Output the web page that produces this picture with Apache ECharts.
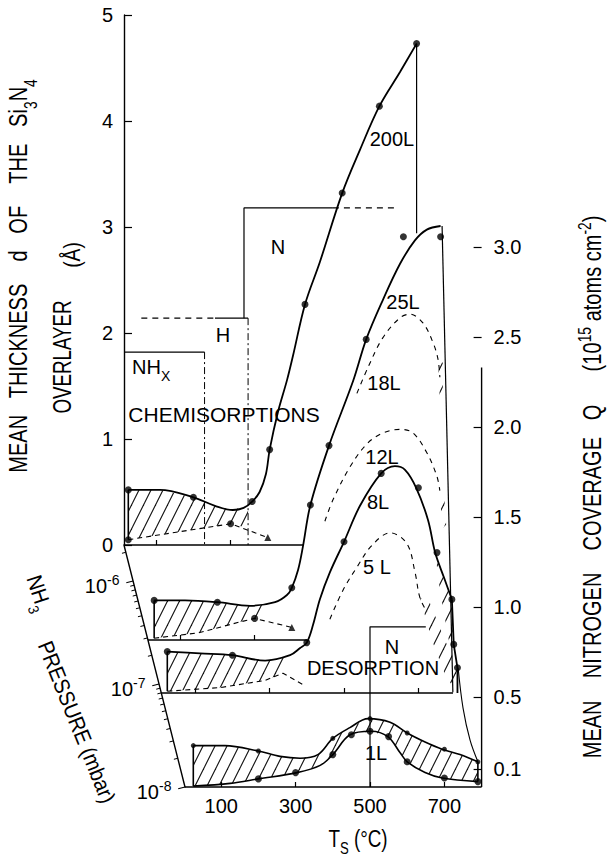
<!DOCTYPE html>
<html><head><meta charset="utf-8">
<script src="https://cdn.jsdelivr.net/npm/echarts@6/dist/echarts.min.js"></script>
<style>html,body{margin:0;padding:0;background:#fff}#c{width:607px;height:861px}</style>
</head><body><div id="c"></div>
<script>
// ================= DATA =================
// Layer A : 200 L exposure, mean thickness d (Å) vs substrate temperature T (°C)
const t200    = [25,110,200,258,306,335,358,378,395,405,427,452,468,500,540,600,648,700,755,800];
const d200    = [0.52,0.52,0.45,0.37,0.33,0.35,0.41,0.50,0.67,0.90,1.25,1.56,1.79,2.27,2.67,3.32,3.73,4.14,4.46,4.73];
const t200Pts = [25,200,358,405,500,600,700,800];
const d200Pts = [0.52,0.45,0.41,0.90,2.27,3.32,4.14,4.73];
const t200Low = [25,300,400];
const d200Low = [0.05,0.20,0.07];
const t200HatchTop = [25,110,200,258,306,347];
const d200HatchTop = [0.52,0.52,0.45,0.37,0.33,0.38];
const t200HatchBot = [25,300,347];
const d200HatchBot = [0.05,0.20,0.16];
const t200Wall = [800,800];
const d200Wall = [4.73,2.94];

// Layer B : 25 L (solid, measured), 18 L and 12 L (dashed) – coverage Q (1e15 atoms/cm2)
const t25    = [30,113,200,288,355,387,400,417,430,450,500,565,600,645,691,731,763,800];
const q25    = [0.22,0.22,0.21,0.19,0.21,0.25,0.29,0.39,0.52,0.75,1.08,1.44,1.67,1.89,2.09,2.22,2.28,2.30];
const t25Pts = [30,200,400,450,500,600,700,800];
const q25Pts = [0.22,0.21,0.29,0.75,1.08,1.67,2.24,2.24];
const t25Low = [30,150,260,300,400];
const q25Low = [0.01,0.04,0.10,0.12,0.07];
const t25HatchTop = [30,113,200,288,340];
const q25HatchTop = [0.22,0.22,0.21,0.19,0.20];
const t25HatchBot = [30,150,260,300,340];
const q25HatchBot = [0.01,0.04,0.10,0.12,0.17];
const t25Wall = [804,833];
const q25Wall = [2.30,-0.29];
const t18 = [575,606,645,691,718,753,780,793,798];
const q18 = [1.37,1.52,1.68,1.79,1.81,1.76,1.65,1.56,1.46];
const t18Strip = [793,806,806,798];
const q18Strip = [1.56,1.54,1.31,1.33];
const t12 = [489,511,556,602,645,691,726,763,790,798];
const q12 = [0.66,0.78,0.96,1.09,1.15,1.17,1.15,1.04,0.91,0.83];
const t12Strip = [798,809,815,804];
const q12Strip = [0.83,0.82,0.64,0.62];

// Layer C : 8 L (solid, measured) and 5 L (dashed)
const t8     = [25,113,200,288,355,382,400,417,435,462,500,543,600,637,664,694,726,745,769,790];
const q8     = [0.23,0.22,0.21,0.18,0.21,0.25,0.28,0.38,0.52,0.67,0.84,1.04,1.22,1.26,1.24,1.14,0.96,0.78,0.64,0.52];
const t8Tail = [790,795,805,805];
const q8Tail = [0.52,0.27,0.14,0];
const t8Pts  = [25,200,400,500,600,700,750,790,795,805];
const q8Pts  = [0.23,0.21,0.28,0.84,1.22,1.14,0.78,0.52,0.27,0.14];
const t8Low  = [25,167,288,336,395];
const q8Low  = [0.01,0.03,0.07,0.11,0.04];
const t8HatchTop = [25,113,200,288,340];
const q8HatchTop = [0.23,0.22,0.21,0.18,0.20];
const t8HatchBot = [25,167,288,336];
const q8HatchBot = [0.01,0.03,0.07,0.11];
const t8Strip = [745,790,793,782,758];
const q8Strip = [0.78,0.52,0.27,0.29,0.57];
const t5 = [462,497,535,575,624,669,691,704,723];
const q5 = [0.41,0.57,0.70,0.82,0.89,0.83,0.67,0.53,0.45];
const tDesStrip = [704,731,772,806,798,772,737];
const qDesStrip = [0.53,0.50,0.29,0.14,0.02,0.10,0.29];

// Layer D : 1 L, upper and lower curves
const t1Up    = [25,110,200,258,312,360,400,446,495,554,600,648,694,742,790];
const q1Up    = [0.23,0.23,0.20,0.17,0.16,0.18,0.27,0.33,0.38,0.36,0.30,0.25,0.21,0.18,0.14];
const t1UpPts = [25,200,400,500,600,700,790];
const q1UpPts = [0.23,0.20,0.27,0.38,0.30,0.21,0.14];
const t1Lo    = [25,124,200,304,366,400,446,503,548,581,600,648,694,790];
const q1Lo    = [0.005,0.02,0.045,0.08,0.12,0.18,0.29,0.31,0.28,0.19,0.14,0.08,0.05,0.03];
const t1LoPts = [200,300,400,450,500,550,600,700,790];
const q1LoPts = [0.045,0.08,0.18,0.29,0.31,0.28,0.14,0.05,0.03];
const tEnvelope = [737,750,769,790];
const qEnvelope = [0.66,0.44,0.26,0.14];

// Region boxes (temperature limits, heights)
const tNHx = [14,230,230];   const dNHx = [1.82,1.82,0];
const tH   = [60,258,347,347]; const dH = [2.14,2.14,2.14,0];
const tN   = [336,336,575,747]; const dN = [2.14,3.18,3.18,3.18];
const tNdes = [500,500,650]; const qNdes = [0,0.89,0.89];

// Visible extent of each layer's temperature baseline (°C)
const baseEnd = [495,441,793,800];
// Axis ticks
const thickTicks = [0,1,2,3,4,5];
const tempTicks = [100,300,500,700];
const covTicks = [0.1,0.5,1.0,1.5,2.0,2.5,3.0];
const covAxisTop = 2.33;
const pressTicks = [1e-8,1e-7,1e-6];

// ================= LAYOUT =================
const K = 0.372; // px per °C
const layers = [
  {x0:119, axisX:124,   base:545, tMax:840, vMin:0,    vMax:5,   ppu:106, ticks:[100,300]},
  {x0:143, axisX:148,   base:640, tMax:840, vMin:-0.5, vMax:2.5, ppu:180, ticks:[100,300]},
  {x0:158, axisX:161.3, base:693, tMax:840, vMin:0,    vMax:1.5, ppu:180, ticks:tempTicks},
  {x0:184, axisX:185,   base:787, tMax:800, vMin:0,    vMax:3.0, ppu:180, ticks:tempTicks}
];
layers.forEach(L=>{L.tMin=(L.axisX-L.x0)/K;});
const FONT = '"Liberation Sans", Arial, Helvetica, sans-serif';
const BLACK = '#000';

function hatchImg(){
  const c=document.createElement('canvas'); c.width=12; c.height=24;
  const g=c.getContext('2d'); g.strokeStyle='#111'; g.lineWidth=1.1;
  for (const dx of [-12,0,12]) { g.beginPath(); g.moveTo(dx-12,48); g.lineTo(dx+24,-24); g.stroke(); }
  return c.toDataURL();
}
const HATCH = {image: hatchImg(), repeat:'repeat', imageWidth:12, imageHeight:24};

const zip=(a,b)=>a.map((v,i)=>[v,b[i]]);
function curve(g,xs,ys,o={}){
  return {type:'line',xAxisIndex:g,yAxisIndex:g,data:zip(xs,ys),smooth:o.smooth===undefined?0.35:o.smooth,
    showSymbol:false,symbol:'none',clip:false,silent:true,z:3,animation:false,
    lineStyle:{color:BLACK,width:o.w||1.8,type:o.type||'solid'}};
}
function dots(g,xs,ys,o={}){
  return {type:'scatter',xAxisIndex:g,yAxisIndex:g,data:zip(xs,ys),symbol:o.symbol||'circle',
    symbolSize:o.size||7,clip:false,silent:true,z:4,animation:false,itemStyle:{color:BLACK}};
}
function poly(g,xs,ys,edges){
  return {type:'custom',coordinateSystem:'cartesian2d',xAxisIndex:g,yAxisIndex:g,clip:false,silent:true,z:2,animation:false,
    data:[[xs[0],ys[0]]],
    renderItem:(params,api)=>{
      const pts=xs.map((x,i)=>api.coord([x,ys[i]]));
      const ch=[{type:'polygon',shape:{points:pts},style:{fill:HATCH,stroke:null}}];
      (edges||[]).forEach(([i,j])=>ch.push({type:'line',shape:{x1:pts[i][0],y1:pts[i][1],x2:pts[j][0],y2:pts[j][1]},style:{stroke:BLACK,lineWidth:1.6}}));
      return {type:'group',children:ch};
    }};
}
function hatch(g,tt,vt,tb,vb,right){
  const xs=tt.concat(tb.slice().reverse()), ys=vt.concat(vb.slice().reverse());
  const e=[[0,xs.length-1]]; if(right) e.push([tt.length-1,tt.length]);
  return poly(g,xs,ys,e);
}

const series=[];
layers.forEach((L,i)=>series.push(curve(i,[L.tMin,baseEnd[i]],[0,0],{smooth:false,w:1.4})));
series.push(curve(3,[800,800],[0,covAxisTop],{smooth:false,w:1.4}));
series.push(
  // Layer A
  hatch(0,t200HatchTop,d200HatchTop,t200HatchBot,d200HatchBot),
  curve(0,t200,d200),
  dots(0,t200Pts,d200Pts),
  curve(0,t200Low,d200Low,{smooth:false,w:1.1,type:[5,4]}),
  dots(0,t200Low.slice(0,2),d200Low.slice(0,2)),
  dots(0,t200Low.slice(2),d200Low.slice(2),{symbol:'triangle',size:7}),
  curve(0,t200Wall,d200Wall,{smooth:false,w:1.2}),
  curve(0,tNHx.slice(0,2),dNHx.slice(0,2),{smooth:false,w:1.2}),
  curve(0,tNHx.slice(1),dNHx.slice(1),{smooth:false,w:1,type:[7,3,2,3]}),
  curve(0,tH.slice(0,2),dH.slice(0,2),{smooth:false,w:1.1,type:[6,5]}),
  curve(0,tH.slice(1,3),dH.slice(1,3),{smooth:false,w:1.2}),
  curve(0,tH.slice(2),dH.slice(2),{smooth:false,w:1,type:[7,3,2,3]}),
  curve(0,tN.slice(0,3),dN.slice(0,3),{smooth:false,w:1.2}),
  curve(0,tN.slice(2),dN.slice(2),{smooth:false,w:1.1,type:[6,5]}),
  // Layer B
  hatch(1,t25HatchTop,q25HatchTop,t25HatchBot,q25HatchBot),
  curve(1,t25,q25),
  dots(1,t25Pts,q25Pts),
  curve(1,t25Low,q25Low,{smooth:false,w:1.1,type:[5,4]}),
  dots(1,[t25Low[3]],[q25Low[3]]),
  dots(1,[t25Low[4]],[q25Low[4]],{symbol:'triangle',size:7}),
  curve(1,t25Wall,q25Wall,{smooth:false,w:1.2}),
  curve(1,t18,q18,{w:1.1,type:[5,5]}),
  curve(1,t12,q12,{w:1.1,type:[5,5]}),
  poly(1,t18Strip,q18Strip),
  poly(1,t12Strip,q12Strip),
  // Layer C
  hatch(2,t8HatchTop,q8HatchTop,t8HatchBot,q8HatchBot),
  curve(2,t8,q8),
  curve(2,t8Tail,q8Tail,{smooth:false}),
  dots(2,t8Pts,q8Pts),
  curve(2,t8Low,q8Low,{smooth:false,w:1.1,type:[5,4]}),
  curve(2,t5,q5,{w:1.1,type:[5,5]}),
  poly(2,t8Strip,q8Strip),
  poly(2,tDesStrip,qDesStrip),
  // Layer D
  hatch(3,t1Up,q1Up,t1Lo,q1Lo,true),
  curve(3,t1Up,q1Up,{w:1.6}),
  curve(3,t1Lo,q1Lo,{w:1.6}),
  dots(3,t1UpPts,q1UpPts,{size:5}),
  dots(3,t1LoPts,q1LoPts,{size:7}),
  curve(3,tEnvelope,qEnvelope,{w:1.1}),
  curve(3,tNdes,qNdes,{smooth:false,w:1.2})
);

const axisLineStyle={color:BLACK,width:1.4};
const xAxes=layers.map((L,i)=>({
  gridIndex:i,type:'value',min:L.tMin,max:L.tMax,
  axisLine:{show:false},
  axisTick:{show:true,inside:true,length:5,customValues:L.ticks,lineStyle:{color:BLACK,width:1.2}},
  axisLabel:{show:i===3,customValues:tempTicks,color:BLACK,fontFamily:FONT,fontSize:20,margin:9},
  splitLine:{show:false}
}));
const yAxes=layers.map((L,i)=>{
  const base={gridIndex:i,type:'value',min:L.vMin,max:L.vMax,splitLine:{show:false}};
  if(i===0) return Object.assign(base,{position:'left',interval:1,
    axisLine:{show:true,lineStyle:axisLineStyle},
    axisTick:{show:true,inside:true,length:8,customValues:thickTicks,lineStyle:{color:BLACK,width:1.2}},
    axisLabel:{customValues:thickTicks,color:BLACK,fontFamily:FONT,fontSize:20,margin:11}});
  if(i===3) return Object.assign(base,{position:'right',
    axisLine:{show:false},
    axisTick:{show:true,inside:true,length:8,customValues:covTicks,lineStyle:{color:BLACK,width:1.2}},
    axisLabel:{customValues:covTicks,color:BLACK,fontFamily:FONT,fontSize:20,margin:12,formatter:v=>v.toFixed(1)}});
  return Object.assign(base,{show:false});
});

function mkRich(s){
  const base={fontFamily:FONT,fill:BLACK,color:BLACK,verticalAlign:'bottom'};
  const small=Math.round(s*0.68);
  return {
    b:Object.assign({fontSize:s},base),
    bu:Object.assign({fontSize:s,padding:[0,0,Math.round(s*0.3),0]},base),
    sub:Object.assign({fontSize:small},base),
    sup:Object.assign({fontSize:small,padding:[0,0,Math.round(s*0.45),0]},base)
  };
}
function txt(text,x,y,o={}){
  const s=o.size||20;
  return {type:'text',x,y,rotation:o.rot||0,scaleX:o.sx||1,silent:true,z:10,
    style:{text,fill:BLACK,font:s+'px '+FONT,fontSize:s,fontFamily:FONT,
      align:o.align||'center',verticalAlign:'middle',textAlign:o.align||'center',textVerticalAlign:'middle',
      rich:mkRich(s)}};
}
const S='\u00a0';
const gap=n=>S.repeat(n);
const graphics=[
  txt('200L',392,139), txt('25L',403,302), txt('18L',384,383), txt('12L',382,457),
  txt('8L',378,502), txt('5'+S+'L',377,567), txt('1L',376,753),
  txt('{bu|NH}{sub|X}',132,370,{align:'left'}),
  txt('H',223,335), txt('N',278,247), txt('CHEMISORPTIONS',224,415,{sx:1.05}),
  txt('N',392,647), txt('DESORPTION',373,668),
  txt('{bu|T}{sub|S}{bu|'+S+'(°C)}',358,842,{size:23,sx:0.82}),
  txt('{bu|MEAN'+gap(3)+'THICKNESS'+gap(4)+'d'+gap(3)+'OF'+gap(4)+'THE'+gap(3)+'Si}{sub|3}{bu|N}{sub|4}',22,276,{rot:Math.PI/2,size:26,sx:0.77}),
  txt('OVERLAYER',63,357,{rot:Math.PI/2,size:25,sx:0.75}),
  txt('(Å)',72,255,{rot:Math.PI/2,size:24,sx:0.8}),
  txt('{b|MEAN'+gap(4)+'NITROGEN'+gap(4)+'COVERAGE'+gap(3)+'Q'+gap(6)+'(10}{sup|15}{b|'+S+'atoms'+S+'cm}{sup|-2}{b|)}',590,487,{rot:Math.PI/2,size:26,sx:0.77}),
  txt('{bu|NH}{sub|3}',36,594,{rot:-72*Math.PI/180,size:22,sx:0.9}),
  txt('PRESSURE'+S+'(mbar)',77,722,{rot:-68*Math.PI/180,size:22,sx:0.9})
];

const chart=echarts.init(document.getElementById('c'),null,{renderer:'svg',width:607,height:861});
chart.setOption({
  animation:false,
  backgroundColor:'#fff',
  grid:layers.map(L=>({left:L.axisX,top:L.base-L.vMax*L.ppu,width:(L.tMax-L.tMin)*K,height:(L.vMax-L.vMin)*L.ppu,containLabel:false,outerBoundsMode:'none'})),
  xAxis:xAxes,
  yAxis:yAxes,
  polar:{center:[185,787],radius:[0,249.6]},
  angleAxis:{startAngle:104.15,show:false,min:0,max:360},
  radiusAxis:{type:'log',logBase:10,min:pressTicks[0],max:Math.pow(10,-5.65),
    axisLine:{show:true,lineStyle:axisLineStyle},
    axisTick:{show:true,length:7,customValues:pressTicks,lineStyle:{color:BLACK,width:1.2}},
    minorTick:{show:true,splitNumber:10,length:4,lineStyle:{color:BLACK,width:1}},
    splitLine:{show:false},minorSplitLine:{show:false},splitArea:{show:false},
    axisLabel:{customValues:pressTicks,margin:14,color:BLACK,fontFamily:FONT,fontSize:20,
      formatter:v=>'{b|10}{sup|'+Math.round(Math.log10(v))+'}',rich:mkRich(20)}},
  graphic:graphics,
  series:series
});
</script></body></html>
